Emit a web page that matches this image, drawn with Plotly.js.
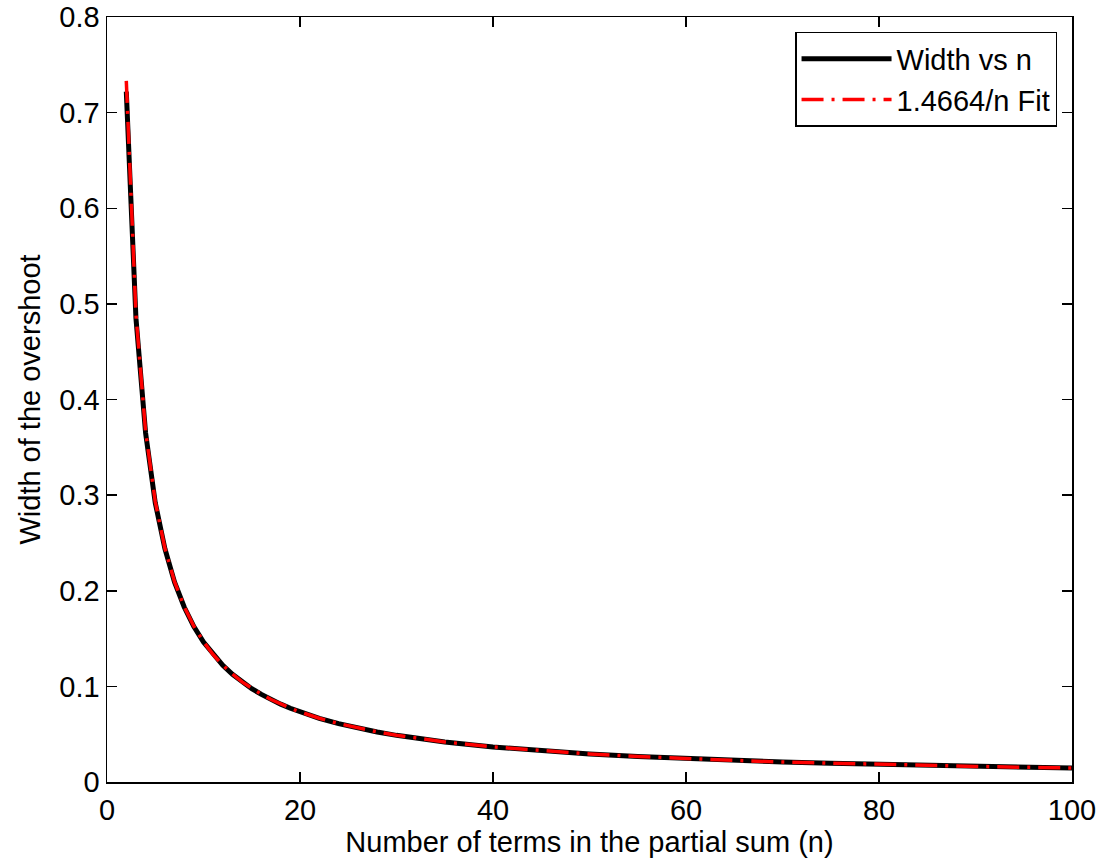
<!DOCTYPE html>
<html>
<head>
<meta charset="utf-8">
<script src="https://cdn.plot.ly/plotly-3.0.1.min.js"></script>
<style>html,body{margin:0;padding:0;background:#fff;}</style>
</head>
<body>
<div id="chart" style="width:1102px;height:861px;"></div>
<script>
var nValues = [2,3,4,5,6,7,8,9,10,11,12,13,14,15,16,17,18,19,20,22,24,26,28,30,35,40,45,50,55,60,65,70,75,80,85,90,95,100];
var widthValues = [0.722,0.485,0.365,0.292,0.244,0.209,0.183,0.1625,0.1463,0.1331,0.1220,0.1126,0.1046,0.0976,0.0916,0.0862,0.0814,0.0771,0.0732,0.0666,0.0610,0.0563,0.0523,0.0488,0.0419,0.0366,0.0326,0.0293,0.0266,0.0244,0.0225,0.0209,0.0195,0.0183,0.0172,0.0163,0.0154,0.0146];
var fitValues = [0.7332,0.4888,0.3666,0.2933,0.2444,0.2095,0.1833,0.1629,0.1466,0.1333,0.1222,0.1128,0.1047,0.0978,0.0917,0.0863,0.0815,0.0772,0.0733,0.0667,0.0611,0.0564,0.0524,0.0489,0.0419,0.0367,0.0326,0.0293,0.0267,0.0244,0.0226,0.0209,0.0196,0.0183,0.0173,0.0163,0.0154,0.0147];
var seriesNames = ['Width vs n', '1.4664/n Fit'];
var xTitle = 'Number of terms in the partial sum (n)';
var yTitle = 'Width of the overshoot';
var xTicks = [0,20,40,60,80,100];
var xTickText = ['0','20','40','60','80','100'];
var yTicks = [0,0.1,0.2,0.3,0.4,0.5,0.6,0.7,0.8];
var yTickText = ['0','0.1','0.2','0.3','0.4','0.5','0.6','0.7','0.8'];

var font = {family: 'Liberation Sans, Arial, sans-serif', size: 29, color: '#000'};
var traces = [
  {x: nValues, y: widthValues, name: seriesNames[0], mode: 'lines', line: {color: '#000', width: 5}},
  {x: nValues, y: fitValues, name: seriesNames[1], mode: 'lines', line: {color: '#ff0000', width: 3.5, dash: '22px,8px,3px,8px'}}
];
var axisCommon = {
  showline: true, linecolor: '#000', linewidth: 1.5, mirror: 'ticks',
  ticks: 'inside', ticklen: 10, tickwidth: 1.5, tickcolor: '#000',
  showgrid: false, zeroline: false, tickfont: font
};
var layout = {
  width: 1102, height: 861,
  margin: {l: 107, r: 30, t: 17, b: 79},
  paper_bgcolor: '#fff', plot_bgcolor: '#fff',
  font: font,
  xaxis: Object.assign({}, axisCommon, {range: [0, 100], tickvals: xTicks, ticktext: xTickText, ticklabelstandoff: 2, title: {text: xTitle, font: font, standoff: 2}}),
  yaxis: Object.assign({}, axisCommon, {range: [0, 0.8], tickvals: yTicks, ticktext: yTickText, title: {text: yTitle, font: font, standoff: 10}}),
  showlegend: true,
  legend: {x: 0.9845, y: 0.9804, xanchor: 'right', yanchor: 'top', bordercolor: '#000', borderwidth: 1.5, bgcolor: '#fff', font: font, tracegroupgap: 0, itemwidth: 90}
};
Plotly.newPlot('chart', traces, layout, {displayModeBar: false, staticPlot: true});
</script>
</body>
</html>
